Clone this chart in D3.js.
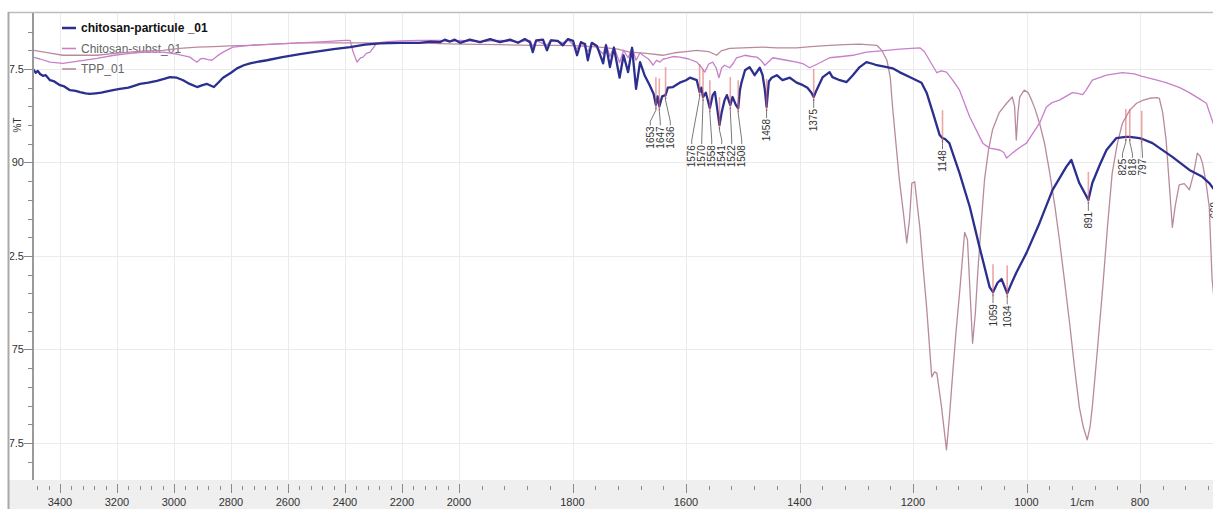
<!DOCTYPE html>
<meta charset="utf-8">
<style>
body { margin: 0; background: #fff; }
svg { display: block; font-family: "Liberation Sans Narrow", "Liberation Sans", Arial, sans-serif; }
.grid line { stroke: #ebebeb; stroke-width: 1; }
.tick-lbl { font-size: 11px; fill: #333; }
.peak-lbl { font-family: "Liberation Sans", Arial, sans-serif; font-size: 10px; fill: #333; }
</style>
<body>
<svg width="1213" height="509"></svg>
<script src="https://cdn.jsdelivr.net/npm/d3@7"></script>
<script>

// [wavenumber 1/cm, %T]
var particule = [
  [3495,97.5],[3485,97.2],[3478,97.35],[3470,97.1],[3460,96.95],[3450,97.0],[3435,96.6],[3420,96.5],[3400,96.2],[3385,96.1],
  [3365,95.8],[3345,95.75],[3330,95.65],[3310,95.55],[3295,95.5],[3275,95.55],[3255,95.6],[3235,95.7],[3214,95.8],[3190,95.9],
  [3160,96.0],[3140,96.15],[3119,96.3],[3090,96.4],[3060,96.55],[3035,96.7],[3014,96.85],[2990,96.8],[2968,96.6],[2945,96.3],
  [2919,96.05],[2900,96.2],[2884,96.3],[2870,96.15],[2860,96.05],[2845,96.4],[2828,96.8],[2800,97.2],[2779,97.55],[2755,97.8],
  [2733,97.95],[2700,98.1],[2674,98.2],[2620,98.45],[2558,98.7],[2500,98.9],[2440,99.1],[2382,99.25],[2330,99.45],[2277,99.55],
  [2207,99.6],[2140,99.6],[2100,99.7],[2067,99.65],[2050,99.85],[2032,99.7],[2015,99.85],[1998,99.6],[1981,99.85],[1963,99.65],
  [1945,99.9],[1928,99.65],[1910,99.85],[1896,99.6],[1884,99.9],[1875,99.65],[1870,98.85],[1864,99.8],[1852,99.85],[1845,99.0],
  [1838,99.8],[1826,99.75],[1817,99.4],[1808,99.9],[1799,99.75],[1792,98.6],[1785,99.65],[1778,99.5],[1773,98.2],[1766,99.6],
  [1757,99.35],[1746,97.95],[1741,99.4],[1734,97.65],[1727,99.2],[1717,96.8],[1710,98.6],[1702,97.25],[1695,99.2],[1688,95.9],
  [1681,98.05],[1673,97.0],[1664,96.2],[1657,95.5],[1653,94.6],[1650,95.3],[1647,94.5],[1642,95.3],[1636,95.4],[1632,96.0],
  [1623,96.05],[1611,96.4],[1600,96.6],[1593,96.8],[1581,96.6],[1576,95.65],[1573,96.0],[1570,95.25],[1565,95.6],[1558,94.35],
  [1553,95.4],[1549,95.65],[1541,93.0],[1537,94.05],[1532,95.0],[1528,95.4],[1522,94.6],[1518,95.25],[1512,94.6],[1508,94.35],
  [1505,95.8],[1502,96.45],[1496,97.4],[1488,97.65],[1479,97.0],[1470,97.6],[1465,97.0],[1461,95.8],[1458,94.45],[1454,96.5],
  [1449,96.8],[1440,97.0],[1430,96.6],[1417,96.8],[1405,96.4],[1394,96.2],[1386,96.0],[1379,95.6],[1375,95.25],[1370,95.8],
  [1359,96.85],[1347,97.25],[1342,96.85],[1329,96.6],[1317,96.45],[1306,97.0],[1294,97.65],[1282,98.05],[1270,97.9],[1264,97.8],
  [1246,97.65],[1236,97.55],[1224,97.25],[1206,96.85],[1185,96.4],[1176,95.6],[1165,94.0],[1153,92.2],[1148,91.95],[1144,91.9],
  [1136,91.55],[1118,89.15],[1100,86.45],[1083,83.25],[1065,80.0],[1059,79.6],[1051,80.35],[1044,80.65],[1034,79.5],[1026,80.35],
  [1018,81.15],[1000,82.75],[977,85.15],[954,87.8],[930,89.65],[921,90.2],[907,88.35],[891,87.0],[884,88.35],[871,89.8],
  [859,91.0],[842,91.95],[825,92.05],[818,92.05],[801,91.95],[797,91.9],[778,91.55],[743,90.45],[713,89.4],[690,88.85],
  [678,88.35],[669,87.8],[655,86.8]
];

var subst = [
  [3495,98.45],[3470,98.3],[3435,98.05],[3390,97.95],[3330,98.15],[3270,98.35],[3210,98.6],[3154,98.75],[3100,98.85],[3039,98.85],
  [2990,98.7],[2944,98.45],[2930,98.2],[2919,98.05],[2908,98.3],[2898,98.35],[2880,98.25],[2867,98.2],[2848,98.55],[2828,98.85],
  [2793,99.25],[2733,99.4],[2650,99.5],[2558,99.6],[2470,99.7],[2400,99.8],[2382,99.8],[2372,98.9],[2358,98.05],[2345,98.4],
  [2337,98.45],[2325,98.75],[2312,98.85],[2288,99.6],[2250,99.7],[2207,99.75],[2140,99.8],[2067,99.8],[2030,99.7],[1998,99.8],
  [1963,99.7],[1928,99.8],[1896,99.7],[1875,99.8],[1870,99.3],[1864,99.8],[1845,99.4],[1838,99.85],[1817,99.6],[1808,99.85],
  [1792,99.1],[1785,99.7],[1773,98.9],[1766,99.6],[1746,98.7],[1741,99.5],[1734,98.5],[1727,99.3],[1717,98.0],[1710,99.0],
  [1702,98.4],[1695,99.2],[1688,98.2],[1681,98.8],[1676,98.6],[1666,98.3],[1658,97.8],[1652,98.2],[1646,98.05],[1640,98.3],
  [1634,98.35],[1623,98.5],[1611,98.45],[1595,98.3],[1581,98.05],[1574,97.7],[1567,97.25],[1560,97.9],[1553,98.05],[1547,97.6],
  [1542,96.8],[1537,97.6],[1532,97.8],[1523,97.6],[1516,98.0],[1511,98.4],[1496,98.6],[1485,98.5],[1475,98.45],[1468,98.2],
  [1461,97.8],[1454,98.1],[1447,98.4],[1435,98.3],[1423,98.2],[1405,98.05],[1393,97.9],[1382,97.6],[1373,97.8],[1364,98.0],
  [1347,98.4],[1325,98.5],[1306,98.6],[1282,98.85],[1246,99.0],[1224,99.1],[1188,99.2],[1180,98.9],[1171,98.2],[1158,97.2],
  [1150,97.35],[1141,97.25],[1130,96.6],[1118,95.8],[1100,93.65],[1077,91.55],[1065,91.15],[1047,91.0],[1040,90.8],[1035,90.35],
  [1025,90.75],[1012,91.2],[1000,91.55],[977,93.15],[965,94.45],[955,94.8],[942,95.0],[919,95.6],[910,95.55],[901,95.45],
  [895,95.8],[884,96.6],[859,97.0],[831,97.2],[810,97.1],[796,96.9],[770,96.6],[754,96.4],[730,96.0],[713,95.6],
  [695,95.1],[683,94.75],[673,93.4],[660,91.8]
];

var tpp = [
  [3495,99.0],[3440,98.8],[3390,98.6],[3330,98.6],[3270,98.6],[3210,98.75],[3154,98.85],[3100,98.95],[3039,99.0],[2980,99.15],
  [2919,99.25],[2860,99.3],[2804,99.35],[2733,99.4],[2650,99.5],[2558,99.6],[2470,99.6],[2382,99.6],[2300,99.6],[2207,99.6],
  [2100,99.55],[1998,99.5],[1928,99.45],[1870,99.4],[1822,99.4],[1790,99.35],[1752,99.25],[1720,99.1],[1699,98.85],[1670,98.75],
  [1641,98.6],[1620,98.8],[1600,98.9],[1581,99.0],[1560,98.9],[1546,98.6],[1538,98.95],[1523,99.15],[1500,99.2],[1465,99.25],
  [1440,99.2],[1405,99.2],[1380,99.3],[1347,99.4],[1320,99.45],[1294,99.5],[1264,99.4],[1255,99.0],[1246,98.2],[1240,96.8],
  [1236,94.45],[1230,91.5],[1224,88.6],[1217,86.0],[1211,83.55],[1206,85.5],[1202,88.35],[1197,88.45],[1193,86.8],[1188,84.8],
  [1182,81.5],[1176,78.4],[1167,72.8],[1162,73.2],[1158,73.1],[1150,70.5],[1141,66.95],[1136,69.5],[1130,73.1],[1124,76.5],
  [1118,79.5],[1109,84.4],[1104,83.8],[1095,75.5],[1090,78.0],[1086,81.1],[1080,85.0],[1074,88.6],[1067,91.0],[1060,92.6],
  [1048,94.0],[1035,94.75],[1025,95.25],[1021,94.5],[1018,91.8],[1015,94.0],[1012,95.25],[1004,95.8],[997,95.6],[991,95.0],
  [985,94.3],[977,93.15],[968,91.5],[959,89.15],[950,86.5],[942,83.8],[933,80.5],[924,77.1],[916,73.8],[907,70.4],
  [900,68.8],[893,67.75],[888,68.8],[884,70.4],[875,75.0],[866,79.8],[857,85.0],[849,89.15],[840,91.5],[831,93.15],
  [818,94.2],[806,94.75],[794,95.0],[783,95.15],[770,95.2],[766,95.15],[760,94.0],[754,91.8],[748,88.0],[743,84.8],
  [738,86.5],[731,88.2],[722,88.3],[713,87.8],[706,89.0],[699,90.75],[694,90.5],[690,89.95],[684,88.5],[678,86.45],
  [673,80.65],[664,76.6]
];

var seriesNames = ["chitosan-particule _01", "Chitosan-subst_01", "TPP_01"];
var seriesColors = ["#2b2f8e", "#c97fcb", "#b98a9f"];
var peaks = [1653, 1647, 1636, 1576, 1570, 1558, 1541, 1522, 1508, 1458, 1375, 1148, 1059, 1034, 891, 825, 818, 797, 669];
var xTicks = [3400, 3200, 3000, 2800, 2600, 2400, 2200, 2000, 1800, 1600, 1400, 1200, 1000, 800];
var yTicks = [97.5, 90, 82.5, 75, 67.5];

var svg = d3.select("svg"),
    W = 1213, H = 509,
    plotLeft = 33, plotTop = 13, plotBottom = 480;

// Shimadzu-style axis: above 2000 1/cm is compressed by half
var x = d3.scaleLinear().domain([3400, 2000, 800]).range([60, 459, 1140]);
var y = d3.scaleLinear().domain([64.53, 101.99]).range([plotBottom, plotTop]);

var defs = svg.append("defs");
defs.append("clipPath").attr("id", "plotclip")
  .append("rect").attr("x", plotLeft + 1).attr("y", plotTop).attr("width", W - plotLeft).attr("height", plotBottom - plotTop);
defs.append("clipPath").attr("id", "ylblclip")
  .append("rect").attr("x", 10).attr("y", 0).attr("width", plotLeft - 10).attr("height", H);

// bottom band + frame
svg.append("rect").attr("x", 9).attr("y", plotBottom).attr("width", W).attr("height", H - plotBottom).attr("fill", "#efefef");
svg.append("line").attr("x1", 8).attr("x2", W).attr("y1", plotTop - 0.5).attr("y2", plotTop - 0.5)
    .attr("stroke", "#bdbdbd").attr("stroke-width", 1.5);
svg.append("line").attr("x1", 8.5).attr("x2", 8.5).attr("y1", plotTop - 1).attr("y2", H)
    .attr("stroke", "#a9a9a9").attr("stroke-width", 2);

// grid
var grid = svg.append("g").attr("class", "grid");
grid.selectAll(".gx").data(xTicks).enter().append("line")
    .attr("x1", function(d) { return Math.round(x(d)) + 0.5; })
    .attr("x2", function(d) { return Math.round(x(d)) + 0.5; })
    .attr("y1", plotTop).attr("y2", plotBottom);
grid.selectAll(".gy").data(yTicks).enter().append("line")
    .attr("x1", plotLeft).attr("x2", W)
    .attr("y1", function(d) { return Math.round(y(d)) + 0.5; })
    .attr("y2", function(d) { return Math.round(y(d)) + 0.5; });

// y axis
svg.append("line").attr("x1", plotLeft).attr("x2", plotLeft).attr("y1", plotTop).attr("y2", plotBottom)
    .attr("stroke", "#9a9a9a").attr("stroke-width", 2);
var yMinor = d3.range(44, 68).map(function(i) { return i * 1.5; });
svg.append("g").selectAll("line").data(yMinor).enter().append("line")
    .attr("x1", function(d) { return yTicks.indexOf(d) >= 0 ? plotLeft - 9 : plotLeft - 5; })
    .attr("x2", plotLeft)
    .attr("y1", function(d) { return Math.round(y(d)) + 0.5; })
    .attr("y2", function(d) { return Math.round(y(d)) + 0.5; })
    .attr("stroke", "#8a8a8a");
svg.append("g").attr("clip-path", "url(#ylblclip)")
  .selectAll("text").data(yTicks).enter().append("text")
    .attr("class", "tick-lbl")
    .attr("x", plotLeft - 9).attr("y", function(d) { return y(d) + 4; })
    .attr("text-anchor", "end")
    .text(function(d) { return d; });
svg.append("text").attr("class", "tick-lbl").style("font-size", "10px")
    .attr("transform", "translate(21,125) rotate(-90)")
    .attr("text-anchor", "middle").text("%T");

// x axis
var xMinor = d3.range(3480, 640, -40);
svg.append("g").selectAll("line").data(xMinor).enter().append("line")
    .attr("x1", function(d) { return Math.round(x(d)) + 0.5; })
    .attr("x2", function(d) { return Math.round(x(d)) + 0.5; })
    .attr("y1", function(d) { return xTicks.indexOf(d) >= 0 ? plotBottom + 4 : plotBottom + 6; })
    .attr("y2", function(d) { return xTicks.indexOf(d) >= 0 ? plotBottom + 13 : plotBottom + 10; })
    .attr("stroke", "#8a8a8a");
svg.append("g").selectAll("text").data(xTicks).enter().append("text")
    .attr("class", "tick-lbl")
    .attr("x", function(d) { return x(d); }).attr("y", 506)
    .attr("text-anchor", "middle")
    .text(function(d) { return d; });
svg.append("text").attr("class", "tick-lbl")
    .attr("x", 1082).attr("y", 506).attr("text-anchor", "middle").text("1/cm");

// legend
var legend = svg.append("g").selectAll("g").data(seriesNames).enter().append("g")
    .attr("transform", function(d, i) { return "translate(0," + (28 + i * 20.5) + ")"; });
legend.append("line").attr("x1", 62).attr("x2", 76)
    .attr("stroke", function(d, i) { return seriesColors[i]; })
    .attr("stroke-width", function(d, i) { return i === 0 ? 2.5 : 1.6; });
legend.append("text").attr("x", 81).attr("y", 4)
    .style("font-size", "12px")
    .attr("font-weight", function(d, i) { return i === 0 ? "bold" : "normal"; })
    .attr("fill", function(d, i) { return i === 0 ? "#111" : "#666"; })
    .text(function(d) { return d; });

// spectra
var line = d3.line().x(function(d) { return x(d[0]); }).y(function(d) { return y(d[1]); });
var plot = svg.append("g").attr("clip-path", "url(#plotclip)");
[tpp, subst, particule].forEach(function(s, k) {
  var idx = 2 - k;
  plot.append("path").datum(s)
      .attr("fill", "none")
      .attr("stroke", seriesColors[idx])
      .attr("stroke-width", idx === 0 ? 2.3 : 1.3)
      .attr("stroke-linejoin", "round")
      .attr("d", line);
});

// peak picking marks on chitosan-particule
function valueAt(wn) {
  for (var i = 1; i < particule.length; i++) {
    var a = particule[i - 1], b = particule[i];
    if (wn <= a[0] && wn >= b[0]) return a[1] + (b[1] - a[1]) * (a[0] - wn) / (a[0] - b[0]);
  }
  return particule[particule.length - 1][1];
}
var pk = peaks.map(function(wn) { return {wn: wn, px: x(wn), py: y(valueAt(wn))}; });
var groups = [];
pk.forEach(function(p) {
  var g = groups[groups.length - 1];
  if (g && p.px - g[g.length - 1].px < 12) g.push(p); else groups.push([p]);
});
groups.forEach(function(g) {
  var cx = d3.mean(g, function(p) { return p.px; }),
      low = d3.max(g, function(p) { return p.py; });
  g.forEach(function(p, i) {
    p.lx = g.length > 1 ? cx + (i - (g.length - 1) / 2) * 10 : p.px;
    p.ly = low + (g.length > 1 ? 20 : 12);
  });
});
var marks = plot.append("g");
marks.selectAll("line").data(pk).enter().append("line")
    .attr("x1", function(p) { return p.px; }).attr("x2", function(p) { return p.px; })
    .attr("y1", function(p) { return p.py - 28; }).attr("y2", function(p) { return p.py + 4; })
    .attr("stroke", "#e06a6a").attr("stroke-opacity", 0.6).attr("stroke-width", 1.6);
marks.selectAll("path").data(pk).enter().append("path")
    .attr("fill", "none").attr("stroke", "#555").attr("stroke-width", 0.8)
    .attr("d", function(p) {
      return "M" + p.px + "," + (p.py + 2) + "L" + p.px + "," + (p.py + 5) +
             "L" + p.lx + "," + (p.ly - 5) + "L" + p.lx + "," + (p.ly - 1);
    });
marks.selectAll("text").data(pk).enter().append("text")
    .attr("class", "peak-lbl")
    .attr("text-anchor", "end")
    .attr("transform", function(p) { return "translate(" + (p.lx + 3.5) + "," + p.ly + ") rotate(-90)"; })
    .text(function(p) { return p.wn; });

</script>
</body>
